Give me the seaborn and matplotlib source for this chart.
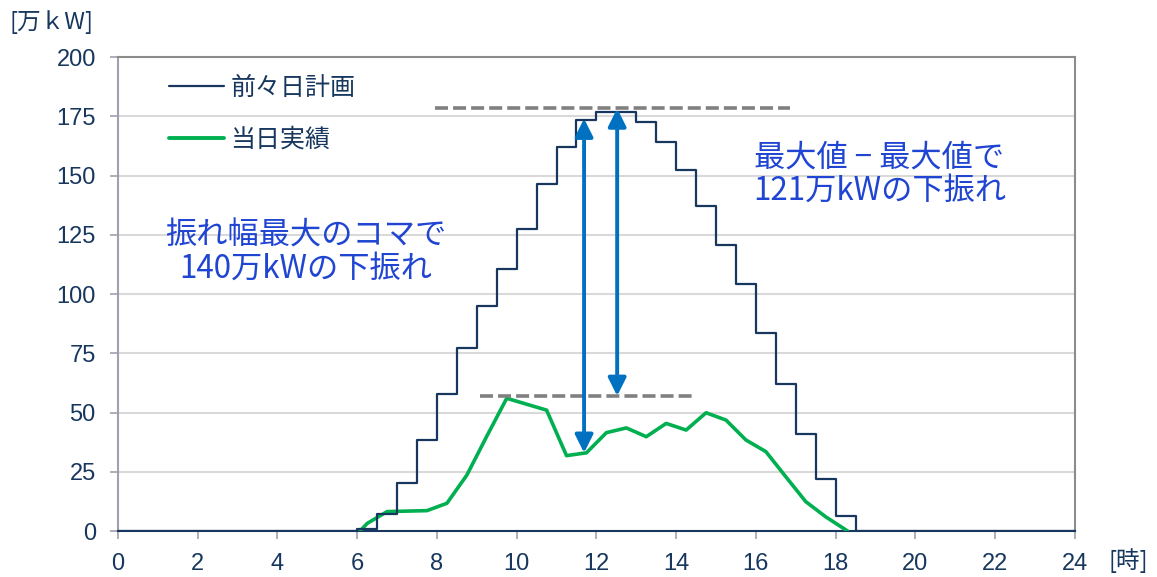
import matplotlib
matplotlib.use("Agg")
import matplotlib.pyplot as plt
import seaborn as sns
from matplotlib.lines import Line2D

# 前々日計画 (30分コマ, steps-post)
plan_hours = [0, 6.0, 6.5, 7.0, 7.5, 8.0, 8.5, 9.0, 9.5, 10.0, 10.5, 11.0, 11.5, 12.0,
              12.5, 13.0, 13.5, 14.0, 14.5, 15.0, 15.5, 16.0, 16.5, 17.0, 17.5, 18.0, 18.5, 24]
plan_vals = [0, 1, 7, 20.4, 38.4, 57.7, 77.1, 95, 110.5, 127.4, 146.4, 161.9, 173.4, 177,
             177, 172.7, 164, 152.3, 137.1, 120.7, 104.1, 83.4, 61.9, 40.8, 21.9, 6.5, 0, 0]

# 当日実績
actual_hours = [6.07, 6.25, 6.75, 7.25, 7.75, 8.25, 8.75, 9.25, 9.75, 10.25, 10.75, 11.25, 11.75,
                12.25, 12.75, 13.25, 13.75, 14.25, 14.75, 15.25, 15.75, 16.25, 16.75, 17.25, 17.75, 18.3]
actual_vals = [0, 3.2, 8.2, 8.4, 8.6, 11.7, 23.6, 40, 56, 53.5, 51, 31.8, 33,
               41.5, 43.5, 39.8, 45.4, 42.6, 49.9, 46.8, 38.4, 33.5, 22.9, 12.4, 6.0, 0]

x_ticks = list(range(0, 25, 2))
y_ticks = list(range(0, 201, 25))

# 参考線と矢印
peak_plan, peak_actual = 178.3, 57
dash_top = (7.95, 16.85)
dash_low = (9.08, 14.42)
arrow1 = (11.69, 174, 33)
arrow2 = (12.52, 178.3, 57)

navy = "#17375E"
green = "#00B050"
arrow_blue = "#0070C0"
text_blue = "#1F45D2"

sns.set_theme(style="white")
plt.rcParams["font.family"] = ["Liberation Sans", "Noto Sans CJK JP", "DejaVu Sans"]

fig = plt.figure(figsize=(11.57, 5.77), dpi=100)
ax = fig.add_axes([0.102, 0.0797, 0.827, 0.8215])

sns.lineplot(x=plan_hours, y=plan_vals, drawstyle="steps-post", color=navy, lw=1.6, ax=ax, zorder=4)
sns.lineplot(x=actual_hours, y=actual_vals, color=green, lw=2.6, ax=ax, zorder=3)

ax.plot(dash_top, [peak_plan, peak_plan], color="#808080", lw=2.6, ls=(0, (3.6, 1.4)), zorder=5)
ax.plot(dash_low, [peak_actual, peak_actual], color="#808080", lw=2.6, ls=(0, (3.6, 1.4)), zorder=5)

for xa, ytop, ybot in [arrow1, arrow2]:
    ax.annotate("", xy=(xa, ytop), xytext=(xa, ybot),
                arrowprops=dict(arrowstyle="<|-|>", color=arrow_blue, lw=2.8,
                                mutation_scale=27, shrinkA=0, shrinkB=0), zorder=6)

ax.text(4.71, 117.5, "振れ幅最大のコマで\n140万kWの下振れ", color=text_blue, fontsize=22.5,
        ha="center", va="center", linespacing=1.05, family=["Noto Sans CJK JP"])
ax.text(19.1, 150.5, "最大値 − 最大値で\n121万kWの下振れ", color=text_blue, fontsize=22.5,
        ha="center", va="center", linespacing=1.05, family=["Noto Sans CJK JP"])

ax.set_xlim(0, 24)
ax.set_ylim(0, 200)
ax.set_xticks(x_ticks)
ax.set_yticks(y_ticks)
ax.set_xlabel("")
ax.set_ylabel("")
ax.yaxis.grid(True, color="#D9D9D9", lw=1.5)
ax.xaxis.grid(False)
ax.set_axisbelow(True)

for side in ["top", "right"]:
    ax.spines[side].set_color("#8C8C8C")
    ax.spines[side].set_linewidth(1.5)
ax.spines["left"].set_color("#A0A0B0")
ax.spines["left"].set_linewidth(1.5)
ax.spines["bottom"].set_color(navy)
ax.spines["bottom"].set_linewidth(1.5)

ax.tick_params(axis="both", which="major", direction="out", length=6, width=1.2,
               color="#A0A0B0", labelcolor=navy, labelsize=17, pad=10,
               bottom=True, left=True)

handles = [Line2D([], [], color=navy, lw=1.6), Line2D([], [], color=green, lw=2.8)]
ax.legend(handles, ["前々日計画", "当日実績"], loc="upper left", frameon=False,
          handlelength=2.2, handletextpad=0.25, labelspacing=1.05,
          bbox_to_anchor=(0.03, 1.01), labelcolor=navy,
          prop={"family": ["Noto Sans CJK JP"], "size": 18})

fig.text(0.008, 0.962, "[万ｋW]", color=navy, fontsize=17, ha="left", va="center",
         family=["Noto Sans CJK JP"])
fig.text(0.958, 0.029, "[時]", color=navy, fontsize=17, ha="left", va="center",
         family=["Noto Sans CJK JP"])

fig.savefig("out.png", dpi=100)
